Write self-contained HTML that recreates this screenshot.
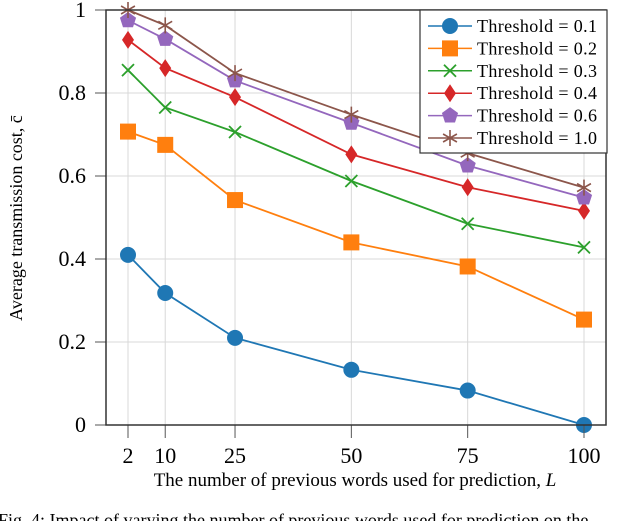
<!DOCTYPE html>
<html><head><meta charset="utf-8"><style>
body{margin:0;background:#fff;width:640px;height:521px;overflow:hidden}
svg text{font-family:"Liberation Serif",serif;fill:#000}
</style></head><body>
<svg id="chart" width="640" height="521" xmlns="http://www.w3.org/2000/svg">
<g id="grid"></g><g id="series"></g><g id="axes"></g><g id="legend"></g>
<text x="355" y="486" font-size="19" text-anchor="middle">The number of previous words used for prediction, <tspan font-style="italic">L</tspan></text>
<text transform="translate(22,218) rotate(-90)" font-size="18" text-anchor="middle">Average transmission cost, c̄</text>
<text x="-2" y="526" font-size="18">Fig. 4: Impact of varying the number of previous words used for prediction on the</text>
</svg>
<script>
const categories=[2,10,25,50,75,100];
const yTicks=[0,0.2,0.4,0.6,0.8,1];
const yTickLabels=["0","0.2","0.4","0.6","0.8","1"];
const s01=[0.41,0.318,0.21,0.133,0.083,0.0];
const s02=[0.707,0.675,0.542,0.44,0.382,0.254];
const s03=[0.855,0.765,0.706,0.588,0.485,0.428];
const s04=[0.928,0.86,0.79,0.652,0.573,0.516];
const s06=[0.975,0.93,0.83,0.728,0.625,0.548];
const s10=[1.0,0.963,0.848,0.748,0.655,0.572];
const labels=["Threshold = 0.1","Threshold = 0.2","Threshold = 0.3","Threshold = 0.4","Threshold = 0.6","Threshold = 1.0"];
const NS="http://www.w3.org/2000/svg";
const L=106,R=606,T=10,B=425;
const xs=v=>128+(v-2)*(584-128)/98;
const ys=v=>B-v*(B-T);
function mk(tag,attrs,parent){const e=document.createElementNS(NS,tag);for(const k in attrs)e.setAttribute(k,attrs[k]);parent.appendChild(e);return e;}
const grid=document.getElementById('grid'),axes=document.getElementById('axes'),ser=document.getElementById('series'),leg=document.getElementById('legend');
categories.forEach(c=>{
 const g=mk('line',{x1:xs(c),x2:xs(c),y1:T,y2:B,stroke:'#d8d8d8','stroke-width':1},grid);
 
 
 const t=mk('line',{x1:xs(c),x2:xs(c),y1:B,y2:B+13,stroke:'#555','stroke-width':1},axes);
 
 
 const tl=mk('text',{x:xs(c),y:B+38,'font-size':22,'text-anchor':'middle'},axes);tl.textContent=c;
 
 
});
yTicks.forEach((v,i)=>{
 const g=mk('line',{x1:L,x2:R,y1:ys(v),y2:ys(v),stroke:'#d8d8d8','stroke-width':1},grid);
 
 
 const t=mk('line',{x1:L-11,x2:L,y1:ys(v),y2:ys(v),stroke:'#555','stroke-width':1},axes);
 
 
 const tl=mk('text',{x:L-20,y:ys(v)+7,'font-size':22,'text-anchor':'end'},axes);tl.textContent=yTickLabels[i];
 
 
});
const frame=mk('rect',{x:L,y:T,width:R-L,height:B-T,fill:'none',stroke:'#333','stroke-width':1.5},axes);


const colors=['#1f77b4','#ff7f0e','#2ca02c','#d62728','#9467bd','#8c564b'];
const markers=['circle','square','x','diamond','pentagon','star'];
function marker(type,x,y,c,p,sc){
 sc=sc||1;
 if(type==='circle')return mk('circle',{cx:x,cy:y,r:8*sc,fill:c},p);
 if(type==='square')return mk('rect',{x:x-8*sc,y:y-8*sc,width:16*sc,height:16*sc,fill:c},p);
 if(type==='x')return mk('path',{d:`M${x-6*sc},${y-6*sc}L${x+6*sc},${y+6*sc}M${x-6*sc},${y+6*sc}L${x+6*sc},${y-6*sc}`,stroke:c,'stroke-width':1.8,fill:'none'},p);
 if(type==='diamond')return mk('path',{d:`M${x},${y-9*sc}L${x+6*sc},${y}L${x},${y+9*sc}L${x-6*sc},${y}Z`,fill:c},p);
 if(type==='pentagon'){let pts=[];for(let i=0;i<5;i++){const a=-Math.PI/2+i*2*Math.PI/5;pts.push((x+8.5*sc*Math.cos(a))+','+(y+8.5*sc*Math.sin(a)));}return mk('polygon',{points:pts.join(' '),fill:c},p);}
 let d='';for(let i=0;i<6;i++){const a=-Math.PI/2+i*Math.PI/3;d+=`M${x},${y}L${x+8*sc*Math.cos(a)},${y+8*sc*Math.sin(a)}`;}
 return mk('path',{d:d,stroke:c,'stroke-width':1.6,fill:'none'},p);
}
[s01,s02,s03,s04,s06,s10].forEach((s,k)=>{
 const g=mk('g',{},ser);
 
 
 const pl=mk('polyline',{points:s.map((v,i)=>xs(categories[i])+','+ys(v)).join(' '),fill:'none',stroke:colors[k],'stroke-width':1.8},g);
 
 
 s.forEach((v,i)=>{const m=marker(markers[k],xs(categories[i]),ys(v),colors[k],g);
  
  });
});
const lb=mk('rect',{x:420,y:10,width:187,height:143,fill:'#fff',stroke:'#333','stroke-width':1.2},leg);


labels.forEach((lab,k)=>{
 const y=26+k*22.4;
 const g=mk('g',{},leg);
 
 
 mk('line',{x1:428,x2:472,y1:y,y2:y,stroke:colors[k],'stroke-width':1.5},g);
 marker(markers[k],450,y,colors[k],g,1);
 const t=mk('text',{x:477,y:y+6,'font-size':18,textLength:120},g);t.textContent=lab;
});
</script>
</body></html>
